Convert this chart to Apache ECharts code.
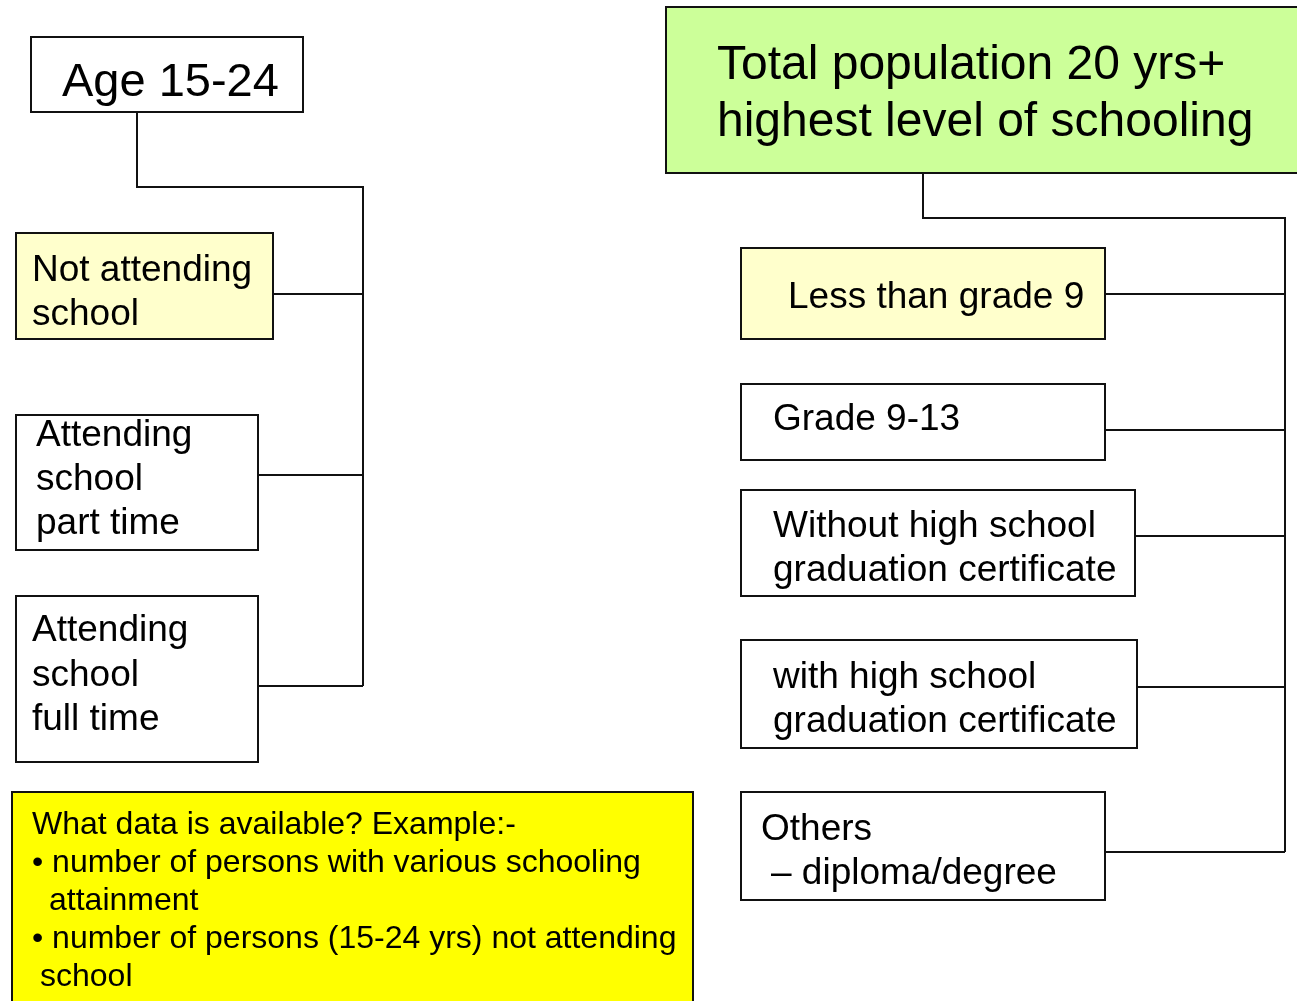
<!DOCTYPE html>
<html lang="en">
<head>
    <meta charset="utf-8"/>
    <title>Schooling data</title>
    <script src="https://cdn.jsdelivr.net/npm/echarts@6/dist/echarts.min.js" type="text/javascript"></script>
    <style>
        html, body { margin: 0; padding: 0; background: #fff; }
        #diagram { width: 1297px; height: 1001px; }
    </style>
</head>
<body>
<div id="diagram"></div>
<script>
    // labels of the two trees
    var ageRoot = ['Age 15-24'];
    var ageGroups = [
        ['Not attending', 'school'],
        ['Attending', 'school', 'part time'],
        ['Attending', 'school', 'full time']
    ];
    var popRoot = ['Total population 20 yrs+', 'highest level of schooling'];
    var schoolingLevels = [
        ['Less than grade 9'],
        ['Grade 9-13'],
        ['Without high school', 'graduation certificate'],
        ['with high school', 'graduation certificate'],
        ['Others', '\u2013 diploma/degree']
    ];
    var noteLines = [
        'What data is available? Example:-',
        '\u2022 number of persons with various schooling',
        'attainment',
        '\u2022 number of persons (15-24 yrs) not attending',
        'school'
    ];

    // box layout: rect, text start(s), baselines, font size, branch height
    var ageRootBox = {x: 31, y: 37, w: 272, h: 75, tx: [62], base: [97], fs: 47, fill: '#ffffff'};
    var ageBoxes = [
        {x: 16, y: 233, w: 257, h: 106, tx: [32], base: [282, 326], fs: 37, fill: '#ffffcc', link: 294},
        {x: 16, y: 415, w: 242, h: 135, tx: [36], base: [447, 491, 535], fs: 37, fill: '#ffffff', link: 475},
        {x: 16, y: 596, w: 242, h: 166, tx: [32], base: [642, 687, 731], fs: 37, fill: '#ffffff', link: 686}
    ];
    var popRootBox = {x: 666, y: 7, w: 640, h: 166, tx: [717], base: [80, 137], fs: 48, fill: '#ccff99'};
    var levelBoxes = [
        {x: 741, y: 248, w: 364, h: 91, tx: [788], base: [309], fs: 37, fill: '#ffffcc', link: 294},
        {x: 741, y: 384, w: 364, h: 76, tx: [773], base: [431], fs: 37, fill: '#ffffff', link: 430},
        {x: 741, y: 490, w: 394, h: 106, tx: [773], base: [538, 582], fs: 37, fill: '#ffffff', link: 536},
        {x: 741, y: 640, w: 396, h: 108, tx: [773], base: [689, 733], fs: 37, fill: '#ffffff', link: 687},
        {x: 741, y: 792, w: 364, h: 108, tx: [761, 771], base: [841, 885], fs: 37, fill: '#ffffff', link: 852}
    ];
    var noteBox = {x: 12, y: 792, w: 681, h: 230, tx: [32, 32, 49, 32, 40], base: [835, 873, 911, 949, 987], fs: 32, fill: '#ffff00'};

    // tree connectors
    var ageTrunk = {top: [137, 112], elbowY: 187, spineX: 363};
    var popTrunk = {top: [923, 173], elbowY: 218, spineX: 1285};

    var FONT = '"Liberation Sans", Arial, sans-serif';
    var INK = '#111111';
    var elements = [];

    function addBox(b, lines) {
        elements.push({
            type: 'rect',
            shape: {x: b.x, y: b.y, width: b.w, height: b.h},
            style: {fill: b.fill, stroke: INK, lineWidth: 2}
        });
        for (var i = 0; i < lines.length; i++) {
            var tx = b.tx[Math.min(i, b.tx.length - 1)];
            elements.push({
                type: 'text',
                x: tx,
                y: b.base[i] - 0.3 * b.fs,
                style: {
                    text: lines[i],
                    font: b.fs + 'px ' + FONT,
                    fill: '#000000',
                    align: 'left',
                    verticalAlign: 'middle'
                }
            });
        }
    }

    function addTree(trunk, boxes) {
        var last = boxes[boxes.length - 1];
        elements.push({
            type: 'polyline',
            shape: {points: [trunk.top, [trunk.top[0], trunk.elbowY], [trunk.spineX, trunk.elbowY], [trunk.spineX, last.link]]},
            style: {stroke: INK, lineWidth: 2, fill: null}
        });
        for (var i = 0; i < boxes.length; i++) {
            var b = boxes[i];
            elements.push({
                type: 'line',
                shape: {x1: b.x + b.w, y1: b.link, x2: trunk.spineX, y2: b.link},
                style: {stroke: INK, lineWidth: 2}
            });
        }
    }

    addTree(ageTrunk, ageBoxes);
    addTree(popTrunk, levelBoxes);

    addBox(ageRootBox, ageRoot);
    for (var i = 0; i < ageGroups.length; i++) addBox(ageBoxes[i], ageGroups[i]);
    addBox(popRootBox, popRoot);
    for (var j = 0; j < schoolingLevels.length; j++) addBox(levelBoxes[j], schoolingLevels[j]);
    addBox(noteBox, noteLines);

    var myChart = echarts.init(document.getElementById('diagram'));
    myChart.setOption({
        backgroundColor: '#ffffff',
        animation: false,
        graphic: {elements: elements}
    });
</script>
</body>
</html>
